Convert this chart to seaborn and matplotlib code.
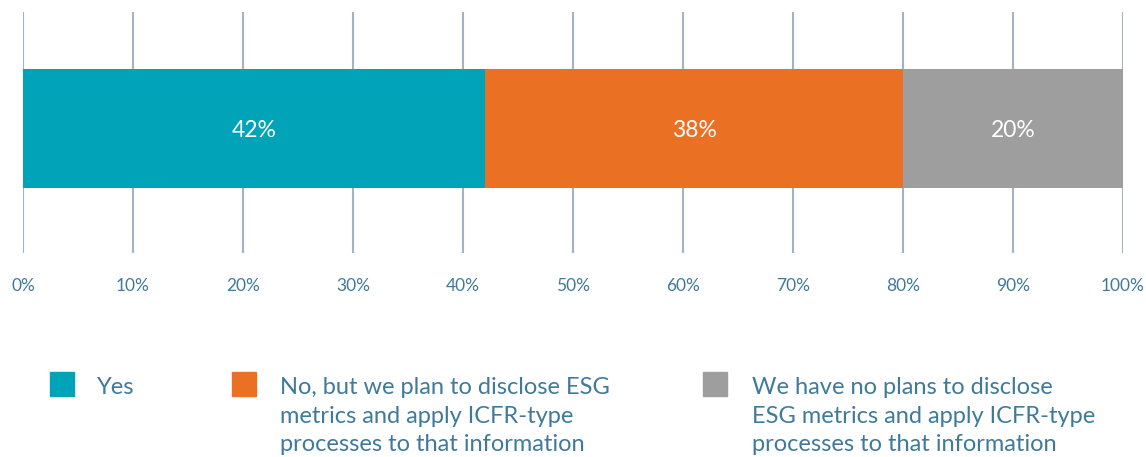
import matplotlib
matplotlib.use("Agg")
import matplotlib.pyplot as plt
import seaborn as sns
import pandas as pd
from matplotlib.patches import Rectangle

categories = ["Yes",
              "No, but we plan to disclose ESG\nmetrics and apply ICFR-type\nprocesses to that information",
              "We have no plans to disclose\nESG metrics and apply ICFR-type\nprocesses to that information"]
values = [42, 38, 20]
colors = ["#00A3B8", "#EA7024", "#9E9E9E"]
ticks = list(range(0, 101, 10))
tick_labels = [f"{t}%" for t in ticks]

sns.set_theme(style="white")
plt.rcParams['font.family'] = ['Lato', 'DejaVu Sans']
text_color = "#3F7A9A"
grid_color = "#A3B3C6"

W, H = 1146, 457
fig = plt.figure(figsize=(W/100, H/100), dpi=100)
ax = fig.add_axes([23/W, 1-253/H, 1100/W, 241/H])

# cumulative totals, drawn from largest to smallest so segments stack
cum = []
s = 0
for v in values:
    s += v
    cum.append(s)

for i in reversed(range(len(values))):
    df = pd.DataFrame({"cat": ["all"], "val": [cum[i]]})
    sns.barplot(data=df, x="val", y="cat", orient="h", color=colors[i],
                saturation=1, width=119/241, ax=ax, zorder=3, linewidth=0)

ax.set_xlim(0, 100)
ax.set_ylim(0.517, -0.483)
ax.set_xlabel("")
ax.set_ylabel("")
ax.set_yticks([])
ax.set_xticks(ticks)
ax.set_xticklabels(tick_labels, color=text_color, fontsize=12.5)
ax.tick_params(axis="x", length=0, pad=18)
for sp in ax.spines.values():
    sp.set_visible(False)
for t in ticks:
    ax.axvline(t, color=grid_color, lw=1.5, zorder=1)

# segment labels
start = 0
for v in values:
    ax.text(start + v/2, 0.01, f"{v}%", ha="center", va="center",
            color="white", fontsize=16.5, zorder=5)
    start += v

# legend
sq_x = [50, 232, 703]
txt_x = [97, 280, 752]
for i, cat in enumerate(categories):
    fig.patches.append(Rectangle((sq_x[i]/W, 1-396/H), 24/W, 24/H,
                                 transform=fig.transFigure, color=colors[i]))
    fig.text(txt_x[i]/W, 1-377/H, cat, ha="left", va="top", color=text_color,
             fontsize=17, linespacing=1.45)

fig.savefig("out.png", dpi=100)
